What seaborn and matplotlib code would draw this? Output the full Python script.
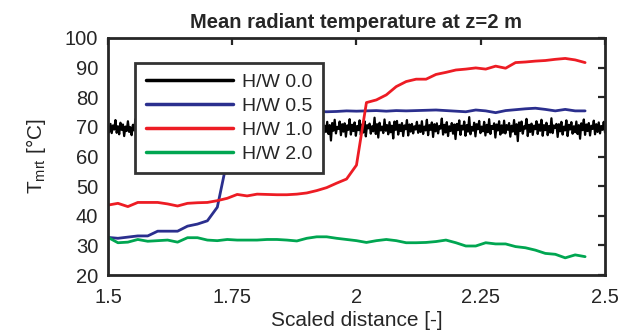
import numpy as np
import pandas as pd
import seaborn as sns
import matplotlib
matplotlib.use('Agg')
import matplotlib.pyplot as plt

# %% data
labels = ['H/W 0.0', 'H/W 0.5', 'H/W 1.0', 'H/W 2.0']
colors = ['#000000', '#2B2F8E', '#ED1C24', '#00A651']

# sampled every 0.02 from 1.5 to 2.46
x_lines = np.linspace(1.5, 2.46, 49)

hw05 = [32.7, 32.4, 32.8, 33.2, 33.2, 34.8, 34.8, 34.8, 36.5, 37.2,
        38.3, 42.9, 59.0, 74.6, 75.0, 75.1, 75.2, 75.1, 75.3, 75.2,
        75.1, 75.2, 75.1, 75.2, 75.4, 75.3, 75.4, 75.5, 75.3, 75.5,
        75.4, 75.5, 75.6, 75.7, 75.5, 75.3, 75.1, 75.7, 75.4, 74.8,
        75.5, 75.8, 76.1, 76.3, 75.9, 75.4, 75.9, 75.4, 75.4]

hw10 = [43.6, 44.2, 43.1, 44.5, 44.5, 44.5, 44.0, 43.3, 44.2, 44.4,
        44.5, 45.1, 45.9, 47.2, 46.7, 47.3, 47.2, 47.1, 47.1, 47.3,
        47.7, 48.5, 49.5, 51.0, 52.4, 57.1, 78.2, 79.1, 80.8, 83.6,
        85.3, 86.1, 86.1, 87.7, 88.4, 89.2, 89.5, 89.9, 89.5, 90.5,
        89.8, 91.7, 91.9, 92.2, 92.4, 92.8, 93.1, 92.6, 91.7]

hw20 = [32.7, 30.9, 31.1, 32.0, 31.4, 31.6, 31.8, 31.1, 32.6, 32.6,
        31.8, 31.6, 32.0, 31.8, 31.8, 31.8, 32.0, 32.0, 31.8, 31.5,
        32.4, 32.9, 32.9, 32.4, 32.0, 31.6, 31.0, 31.6, 32.0, 31.6,
        30.9, 30.9, 31.0, 31.3, 31.8, 30.9, 29.8, 29.8, 30.9, 30.5,
        30.5, 29.6, 29.2, 28.4, 27.3, 27.0, 25.8, 26.8, 26.2]

# H/W 0.0 is a noisy trace across the whole range
hw00 = [69.8, 68.2, 71.0, 67.9, 70.5, 69.1, 72.3, 68.0, 70.2, 67.5, 71.4, 69.0, 70.8, 66.9, 70.1, 68.6, 71.9, 68.3, 69.9, 67.2, 70.7, 68.8, 72.6, 68.1, 70.4,
        67.7, 71.2, 69.3, 70.6, 66.5, 70.9, 68.4, 71.6, 67.8, 70.0, 68.9, 72.1, 67.4, 70.3, 69.2, 71.3, 66.8, 70.8, 68.5, 71.8, 67.6, 69.7, 70.9, 67.9, 72.9,
        68.7, 70.5, 67.1, 71.5, 68.9, 70.2, 66.3, 71.1, 69.0, 72.4, 67.8, 70.6, 68.2, 71.7, 67.5, 69.9, 70.8, 66.7, 71.3, 68.6, 70.4, 67.3, 72.0, 68.8, 70.7,
        67.9, 71.0, 68.3, 73.5, 67.6, 70.1, 68.7, 71.4, 66.4, 70.6, 69.1, 71.9, 67.7, 70.3, 68.5, 72.2, 67.0, 70.9, 69.4, 71.2, 65.8, 70.5, 68.2, 71.6, 67.8,
        70.2, 68.9, 72.7, 67.3, 70.8, 68.4, 71.1, 66.9, 70.4, 69.3, 71.7, 67.5, 70.0, 68.8, 72.5, 67.9, 70.6, 66.2, 71.3, 68.6, 70.9, 67.4, 71.8, 69.0, 70.3,
        67.6, 72.0, 68.1, 70.7, 64.9, 71.2, 68.7, 73.0, 67.8, 70.1, 69.2, 71.5, 66.8, 70.8, 68.3, 71.9, 67.2, 70.4, 69.6, 72.3, 67.0, 70.6, 68.5, 71.1, 66.6,
        70.9, 68.8, 72.8, 67.7, 70.3, 68.2, 71.6, 67.1, 70.5, 69.4, 71.0, 66.5, 70.7, 68.9, 73.2, 67.5, 70.2, 68.6, 71.4, 66.9, 70.8, 69.1, 72.1, 67.9, 70.4,
        68.3, 71.7, 67.6, 70.6, 65.4, 71.3, 68.7, 72.4, 67.8, 70.0, 69.3, 71.8, 67.2, 70.9, 68.4, 71.2, 66.7, 70.5, 69.0, 72.6, 67.4, 70.7, 68.6, 71.5, 67.0,
        70.3, 68.9, 72.2, 67.3, 70.8, 68.1, 71.9, 66.8, 70.6, 69.5, 71.1, 67.7, 70.2, 68.5, 73.1, 67.6, 70.9, 66.4, 71.4, 68.8, 70.1, 67.9, 72.5, 68.7, 70.6,
        67.5, 71.6, 68.2, 70.4, 66.1, 71.8, 69.0, 72.0, 67.4, 70.7, 68.6, 71.3, 66.9, 70.5, 69.2, 72.3, 67.1, 70.8, 68.4, 71.0, 67.8, 70.2, 69.1, 71.7, 68.0,
        70.5, 68.3, 71.9, 67.6, 70.1, 68.8, 72.4, 67.2, 70.6, 69.0, 71.5, 66.6, 70.9, 68.5, 71.2, 67.8, 70.3, 69.4, 72.8, 67.4, 70.7, 68.1, 71.6, 66.9, 70.2,
        68.6, 71.3, 67.7, 70.8, 65.9, 71.0, 68.9, 72.2, 67.3, 70.4, 69.1, 71.8, 67.0, 70.6, 68.4, 73.3, 67.5, 70.0, 68.7, 71.4, 66.8, 70.9, 69.2, 72.0, 67.9,
        70.1, 68.5, 71.7, 67.1, 70.7, 68.2, 72.6, 67.6, 70.3, 69.3, 71.2, 66.4, 70.8, 68.8, 71.9, 67.4, 70.5, 68.0, 72.1, 67.8, 70.6, 69.0, 71.3, 66.7, 70.4,
        68.4, 72.3, 67.5, 70.9, 65.2, 71.5, 68.6, 71.8, 67.7, 70.2, 69.4, 72.7, 66.9, 70.7, 68.3, 71.1, 67.3, 70.4, 69.2, 71.9, 67.6, 70.8, 68.7, 72.4, 67.0,
        70.6, 68.9, 71.4, 67.2, 70.3, 68.1, 72.9, 67.9, 70.5, 69.6, 71.0, 66.6, 70.9, 68.5, 71.7, 67.4, 70.1, 68.8, 72.2, 66.9, 70.7, 69.1, 71.6, 67.7, 70.2,
        68.2, 71.8, 67.6, 70.6, 66.0, 71.2, 68.9, 72.5, 67.3, 70.8, 68.6, 71.3, 67.1, 70.4, 69.3, 72.1, 67.5, 70.9, 68.3, 71.5, 67.8, 70.3, 69.0, 71.7, 68.1]
x_noise = np.linspace(1.5, 2.5, len(hw00))

x_ticks = [1.5, 1.75, 2.0, 2.25, 2.5]
x_ticklabels = ['1.5', '1.75', '2', '2.25', '2.5']
y_ticks = [20, 30, 40, 50, 60, 70, 80, 90, 100]

# %% long form table
df = pd.concat([
    pd.DataFrame({'x': x_noise, 'T': hw00, 'case': labels[0]}),
    pd.DataFrame({'x': x_lines, 'T': hw05, 'case': labels[1]}),
    pd.DataFrame({'x': x_lines, 'T': hw10, 'case': labels[2]}),
    pd.DataFrame({'x': x_lines, 'T': hw20, 'case': labels[3]}),
], ignore_index=True)

# %% plot
sns.set_style('white')
plt.rcParams['font.family'] = ['Liberation Sans', 'DejaVu Sans']
plt.rcParams['mathtext.fontset'] = 'custom'
plt.rcParams['mathtext.rm'] = 'Liberation Sans'
plt.rcParams['xtick.direction'] = 'in'
plt.rcParams['ytick.direction'] = 'in'

fig = plt.figure(figsize=(6.3, 3.35), dpi=100)
ax = fig.add_axes([0.1714, 0.179, 0.7889, 0.7076])

sns.lineplot(data=df, x='x', y='T', hue='case', hue_order=labels,
             palette=dict(zip(labels, colors)), estimator=None, sort=False,
             linewidth=2, ax=ax)
# the noisy trace gets a slightly thinner line
ax.lines[0].set_linewidth(1.6)

ax.set_xlim(1.5, 2.5)
ax.set_ylim(20, 100)
ax.set_xticks(x_ticks)
ax.set_xticklabels(x_ticklabels)
ax.set_yticks(y_ticks)
ax.tick_params(axis='both', which='both', length=5, width=1.6, color='#262626',
               labelsize=14.5, top=True, right=True, labelcolor='#262626')
ax.tick_params(axis='x', pad=9)
ax.tick_params(axis='y', pad=7)
for sp in ax.spines.values():
    sp.set_visible(True)
    sp.set_linewidth(2)
    sp.set_color('#262626')

ax.set_title('Mean radiant temperature at z=2 m', fontsize=14.5, fontweight='bold', pad=7)
ax.set_xlabel('Scaled distance [-]', fontsize=15, color='#262626', labelpad=3)
ax.set_ylabel(r'T$_{\mathregular{mrt}}$ [°C]', fontsize=15, color='#262626', labelpad=12)

handles, lbls = ax.get_legend_handles_labels()
for h in handles:
    h.set_linewidth(2.5)
leg = ax.legend(handles, lbls, loc='upper left', bbox_to_anchor=(0.054, 0.895),
                borderaxespad=0, fontsize=14, frameon=True, fancybox=False,
                handlelength=4.5, handletextpad=0.45, labelspacing=0.32,
                borderpad=0.55, framealpha=1)
leg.get_frame().set_edgecolor('#333333')
leg.get_frame().set_linewidth(2)

fig.savefig('out.png', dpi=100)
